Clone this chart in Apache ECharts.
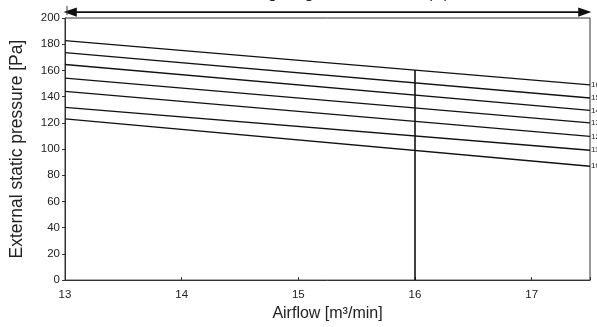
<!DOCTYPE html>
<html>
<head>
<meta charset="utf-8">
<script src="https://cdn.jsdelivr.net/npm/echarts@6/dist/echarts.min.js"></script>
<style>html,body{margin:0;padding:0;background:#fff;}#c{width:597px;height:327px;}</style>
</head>
<body>
<div id="c"></div>
<script>
var curveNames = ['16', '15', '14', '13', '12', '11', '10'];
var airflowPoints = [13, 17.5];
var pressureAt13 = [182.7, 173.6, 164.5, 154.1, 144.0, 131.8, 123.0];
var pressureAt175 = [149.0, 139.0, 129.5, 120.0, 109.7, 99.1, 86.9];
var xTicks = [13, 14, 15, 16, 17];
var yTicks = [0, 20, 40, 60, 80, 100, 120, 140, 160, 180, 200];
var markerAirflow = 16;
var markerTop = 160.3;
var rangeArrow = [[13, 17.5, 204.5]];
var titleText = 'Setting range of airflow rate (H)';

var chart = echarts.init(document.getElementById('c'), null, {renderer: 'canvas'});
var font = 'Arial, "Liberation Sans", sans-serif';

var series = curveNames.map(function (n, i) {
  return {
    name: n,
    type: 'line',
    data: [[airflowPoints[0], pressureAt13[i]], [airflowPoints[1], pressureAt175[i]]],
    symbol: 'none',
    lineStyle: {color: '#111', width: 1.4},
    silent: true,
    clip: false,
    endLabel: {show: true, formatter: n, fontSize: 8, color: '#222', fontFamily: font, distance: 1}
  };
});
series.push({
  name: 'marker',
  type: 'line',
  data: [[markerAirflow, 0], [markerAirflow, markerTop]],
  symbol: 'none',
  lineStyle: {color: '#111', width: 1.6},
  silent: true
});
series.push({
  name: 'range',
  type: 'custom',
  silent: true,
  clip: false,
  data: rangeArrow,
  renderItem: function (params, api) {
    var a = api.coord([api.value(0), api.value(2)]);
    var b = api.coord([api.value(1), api.value(2)]);
    var x1 = a[0] + 1, x2 = b[0] - 1, y = a[1];
    var st = {fill: '#111', stroke: '#111', lineWidth: 1.6};
    return {
      type: 'group',
      children: [
        {type: 'line', shape: {x1: x1, y1: y, x2: x2, y2: y}, style: {stroke: '#111', lineWidth: 1.6}},
        {type: 'polygon', shape: {points: [[x1, y], [x1 + 10, y - 3.5], [x1 + 10, y + 3.5]]}, style: st},
        {type: 'polygon', shape: {points: [[x2, y], [x2 - 10, y - 3.5], [x2 - 10, y + 3.5]]}, style: st},
        {type: 'line', shape: {x1: x1 + 1, y1: y - 6, x2: x1 + 1, y2: y + 3}, style: {stroke: '#333', lineWidth: 1}}
      ]
    };
  }
});

chart.setOption({
  animation: false,
  backgroundColor: '#fff',
  title: {
    text: titleText,
    left: 222,
    top: -19,
    textStyle: {fontSize: 16, fontWeight: 'normal', color: '#222', fontFamily: font}
  },
  grid: {left: 65, right: 7, top: 18, bottom: 46, show: true, borderColor: '#333', borderWidth: 1},
  xAxis: {
    type: 'value',
    min: 13, max: 17.5, interval: 1,
    name: 'Airflow [m³/min]',
    nameLocation: 'middle',
    nameGap: 23,
    nameTextStyle: {fontSize: 16, color: '#222', fontFamily: font},
    axisLine: {show: true, lineStyle: {color: '#333'}},
    axisTick: {show: true, length: 3, inside: true, lineStyle: {color: '#333'}},
    axisLabel: {
      fontSize: 11.5, color: '#222', fontFamily: font, margin: 9,
      formatter: function (v) { return xTicks.indexOf(v) >= 0 ? String(v) : ''; }
    },
    splitLine: {show: false}
  },
  yAxis: {
    type: 'value',
    min: 0, max: 200, interval: 20,
    name: 'External static pressure [Pa]',
    nameLocation: 'middle',
    nameGap: 39,
    nameTextStyle: {fontSize: 17.5, color: '#222', fontFamily: font},
    axisLine: {show: true, lineStyle: {color: '#333'}},
    axisTick: {show: true, length: 3, lineStyle: {color: '#333'}},
    axisLabel: {
      fontSize: 11.5, color: '#222', fontFamily: font, margin: 5,
      formatter: function (v) { return yTicks.indexOf(v) >= 0 ? String(v) : ''; }
    },
    splitLine: {show: false}
  },
  series: series
});
</script>
</body>
</html>
